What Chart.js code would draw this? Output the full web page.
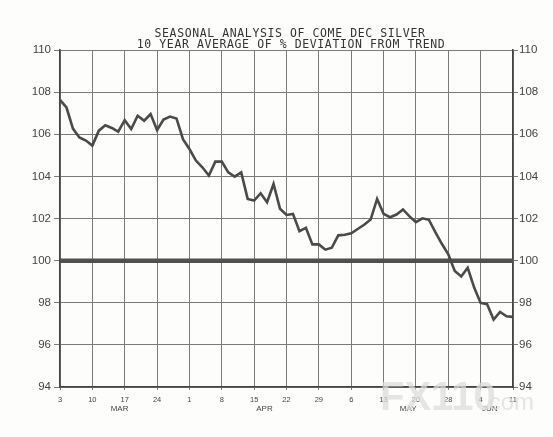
<!DOCTYPE html>
<html>
<head>
<meta charset="utf-8">
<title>Seasonal analysis of COMEX Dec silver</title>
<script src="https://cdn.jsdelivr.net/npm/chart.js@4.4.1/dist/chart.umd.min.js"></script>
<style>
    html, body { margin: 0; padding: 0; background: #fdfdfc; }
    canvas { display: block; }
</style>
</head>
<body>
<canvas id="silver-chart" width="553" height="437"></canvas>
<script>
// Title lines
const titleLines = [
    'SEASONAL ANALYSIS OF COME DEC SILVER',
    '10 YEAR AVERAGE OF % DEVIATION FROM TREND'
];

// Weekly tick labels (every 5 trading days)
const xTickLabels = ['3', '10', '17', '24', '1', '8', '15', '22', '29', '6', '13', '20', '28', '4', '11'];

// Month names and the trading day they sit under
const monthNames = ['MAR', 'APR', 'MAY', 'JUN'];
const monthDays = [9.2, 31.6, 53.8, 66.4];

// 10 year average, % of trend, one value per trading day
const seasonalValues = [
    107.63, 107.27, 106.27, 105.85, 105.70, 105.46, 106.17, 106.43, 106.30, 106.12,
    106.67, 106.25, 106.88, 106.64, 106.96, 106.20, 106.70, 106.84, 106.75, 105.77,
    105.30, 104.75, 104.43, 104.04, 104.70, 104.70, 104.19, 103.99, 104.19, 102.93,
    102.85, 103.20, 102.77, 103.64, 102.46, 102.17, 102.22, 101.40, 101.56, 100.77,
    100.77, 100.52, 100.61, 101.20, 101.23, 101.30, 101.50, 101.70, 101.95, 102.93,
    102.22, 102.06, 102.19, 102.43, 102.10, 101.83, 102.01, 101.94, 101.35, 100.80,
    100.30, 99.51, 99.25, 99.66, 98.72, 97.99, 97.93, 97.20, 97.56, 97.36, 97.33
];

// Trend reference level
const trendLevel = 100;

const lastDay = seasonalValues.length - 1;
const axisFont = "'Liberation Sans', Arial, sans-serif";
const inkColor = '#444';
const gridColor = '#7a7a7a';

// Title, month names and watermark
const decorPlugin = {
    id: 'decor',
    afterDraw(chart) {
        const ctx = chart.ctx;
        const area = chart.chartArea;
        const xScale = chart.scales.x;

        ctx.save();
        ctx.fillStyle = '#333';
        ctx.textAlign = 'center';
        ctx.textBaseline = 'alphabetic';
        ctx.font = "11.5px 'DejaVu Sans Mono', monospace";
        ctx.letterSpacing = '0.6px';
        ctx.fillText(titleLines[0], 290, area.top - 13);
        ctx.fillText(titleLines[1], 291, area.top - 2);
        ctx.letterSpacing = '0px';

        ctx.font = '8px ' + axisFont;
        ctx.fillStyle = inkColor;
        ctx.textBaseline = 'middle';
        monthNames.forEach((name, i) => {
            ctx.fillText(name, xScale.getPixelForValue(monthDays[i]), area.bottom + 22);
        });

        // faint site watermark
        ctx.globalAlpha = 0.75;
        ctx.fillStyle = '#dcdcdc';
        ctx.textAlign = 'left';
        ctx.textBaseline = 'alphabetic';
        ctx.font = "bold 40px 'Liberation Sans', Arial, sans-serif";
        ctx.fillText('FX110', 380, 410);
        ctx.font = "24px 'Liberation Sans', Arial, sans-serif";
        ctx.fillText('.com', 482, 410);
        ctx.restore();
    }
};

const ctx = document.getElementById('silver-chart').getContext('2d');

new Chart(ctx, {
    type: 'line',
    data: {
        datasets: [
            {
                label: 'Trend',
                data: [{ x: 0, y: trendLevel }, { x: lastDay, y: trendLevel }],
                borderColor: '#505050',
                borderWidth: 4.5,
                pointRadius: 0,
                order: 2
            },
            {
                label: 'Seasonal',
                data: seasonalValues.map((v, i) => ({ x: i, y: v })),
                borderColor: '#4a4a4a',
                borderWidth: 2.6,
                pointRadius: 0,
                tension: 0,
                order: 1
            }
        ]
    },
    options: {
        responsive: false,
        animation: false,
        layout: { padding: { top: 50 } },
        plugins: {
            legend: { display: false },
            tooltip: { enabled: false }
        },
        scales: {
            x: {
                type: 'linear',
                min: 0,
                max: lastDay,
                afterBuildTicks: (scale) => {
                    scale.ticks = xTickLabels.map((t, i) => ({ value: i * 5 }));
                },
                afterFit: (scale) => { scale.height = 50; },
                ticks: {
                    autoSkip: false,
                    maxRotation: 0,
                    padding: 5,
                    color: inkColor,
                    font: { family: axisFont, size: 7.5 },
                    callback: (v) => xTickLabels[Math.round(v / 5)]
                },
                grid: {
                    color: gridColor,
                    lineWidth: 1,
                    tickLength: 3
                },
                border: { color: '#444', width: 1.5 }
            },
            y: {
                position: 'left',
                min: 94,
                max: 110,
                afterFit: (scale) => { scale.width = 60; },
                ticks: {
                    stepSize: 2,
                    padding: 3,
                    color: inkColor,
                    font: { family: axisFont, size: 11.5 }
                },
                grid: {
                    color: gridColor,
                    lineWidth: 1,
                    tickLength: 6
                },
                border: { color: '#444', width: 1.5 }
            },
            y2: {
                position: 'right',
                min: 94,
                max: 110,
                afterFit: (scale) => { scale.width = 40; },
                ticks: {
                    stepSize: 2,
                    padding: 1,
                    color: inkColor,
                    font: { family: axisFont, size: 11.5 }
                },
                grid: {
                    drawOnChartArea: false,
                    color: gridColor,
                    tickLength: 5
                },
                border: { color: '#444', width: 1.5 }
            }
        }
    },
    plugins: [decorPlugin]
});
</script>
</body>
</html>
